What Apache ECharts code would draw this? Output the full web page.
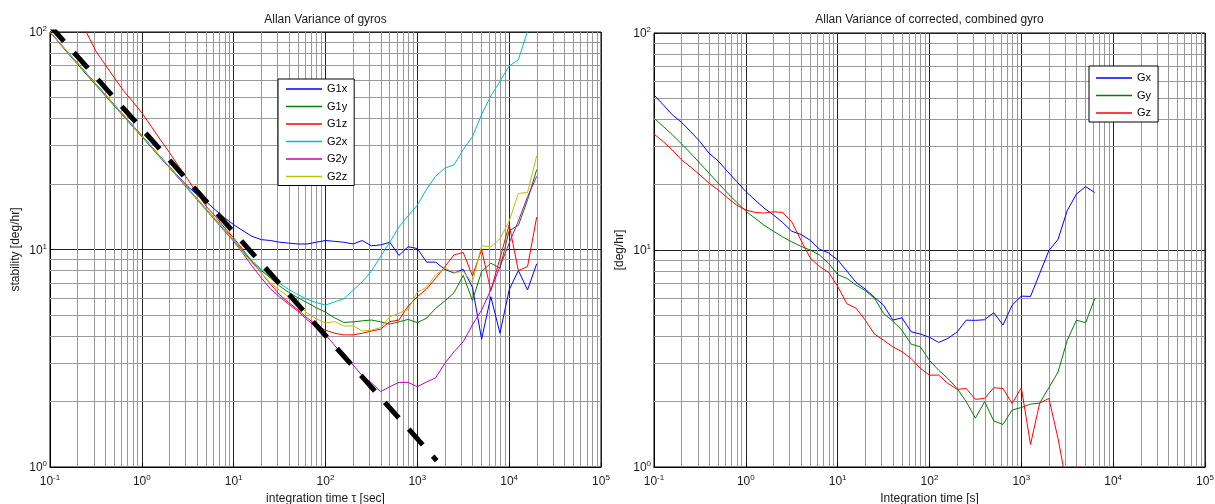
<!DOCTYPE html>
<html><head><meta charset="utf-8">
<script src="https://cdn.jsdelivr.net/npm/echarts@6/dist/echarts.min.js"></script>
<style>html,body{margin:0;padding:0;background:#fff}#c{width:1215px;height:504px}</style>
</head><body><div id="c"></div>
<script>
// ---------- data ----------
const tauL = [0.1, 0.126, 0.158, 0.2, 0.251, 0.316, 0.398, 0.501, 0.631, 0.794,
  1, 1.26, 1.58, 2, 2.51, 3.16, 3.98, 5.01, 6.31, 7.94,
  10, 12.6, 15.8, 20, 25.1, 31.6, 39.8, 50.1, 63.1, 79.4,
  100, 126, 158, 200, 251, 316, 398, 501, 631, 794,
  1000, 1259, 1585, 1995, 2512, 3162, 3981, 5012, 6310, 7943,
  10000, 12589, 15849, 19953];
const G1x = [100, 89.6, 80.3, 71.9, 64.4, 57.7, 51.7, 46.3, 41.5, 37.2,
  33.4, 29.9, 26.8, 24.0, 21.6, 19.5, 17.9, 16.6, 15.2, 14.0,
  13.0, 12.2, 11.5, 11.1, 11.0, 10.8, 10.7, 10.6, 10.6, 10.8,
  11.0, 10.9, 10.8, 10.6, 11.0, 10.4, 10.5, 10.8, 9.4, 10.3,
  10.1, 8.75, 8.75, 8.1, 7.8, 8.1, 6.7, 3.87, 6.07, 4.12,
  6.52, 8.0, 6.52, 8.6];
const G1y = [100, 89.0, 79.5, 71.0, 63.5, 57.0, 51.0, 45.7, 41.0, 36.8,
  33.0, 29.6, 26.5, 23.8, 21.3, 19.0, 17.0, 15.2, 13.6, 12.2,
  11.0, 9.8, 8.8, 8.0, 7.4, 6.8, 6.35, 6.0, 5.7, 5.4,
  5.15, 4.85, 4.62, 4.65, 4.7, 4.74, 4.65, 4.54, 4.65, 4.77,
  4.61, 4.83, 5.37, 5.8, 6.33, 7.6, 5.83, 7.92, 8.65, 8.21,
  12.2, 12.9, 16.9, 23.3];
const G1z = [196, 166, 138, 117, 99, 81.7, 70.8, 61.7, 53.7, 47.9,
  42.5, 36.9, 32.1, 27.9, 24.2, 21.0, 18.2, 15.8, 14.2, 12.6,
  11.3, 10.0, 8.8, 7.8, 6.95, 6.2, 5.7, 5.27, 4.85, 4.5,
  4.25, 4.12, 4.05, 4.05, 4.12, 4.22, 4.3, 4.66, 4.74, 5.5,
  6.07, 6.58, 7.38, 8.35, 9.45, 9.69, 7.56, 10.0, 6.47, 9.1,
  13.0, 8.0, 8.35, 14.1];
const G2x = [100, 89.6, 80.3, 71.9, 64.4, 57.7, 51.7, 46.3, 41.5, 37.2,
  33.4, 29.9, 26.8, 24.0, 21.5, 19.2, 17.2, 15.4, 13.8, 12.4,
  11.1, 9.9, 8.9, 8.1, 7.5, 7.0, 6.55, 6.2, 5.9, 5.7,
  5.55, 5.75, 5.93, 6.5, 7.1, 7.95, 9.3, 10.8, 12.7, 14.3,
  16.0, 18.9, 21.7, 23.7, 24.5, 28.8, 33.0, 41.8, 50.8, 59.3,
  69.8, 74.5, 101, 125];
const G2y = [100, 89.4, 80.0, 71.6, 64.1, 57.4, 51.4, 46.0, 41.2, 36.9,
  33.1, 29.7, 26.6, 23.8, 21.3, 19.1, 17.1, 15.3, 13.7, 12.2,
  10.9, 9.6, 8.4, 7.4, 6.6, 6.05, 5.6, 5.2, 4.75, 4.4,
  4.05, 3.62, 3.21, 2.94, 2.63, 2.44, 2.22, 2.34, 2.45, 2.45,
  2.34, 2.46, 2.57, 3.0, 3.39, 3.77, 4.5, 5.27, 6.52, 8.35,
  10.7, 13.5, 17.5, 21.7];
const G2z = [100, 89.5, 80.1, 71.7, 64.2, 57.5, 51.5, 46.1, 41.3, 37.0,
  33.2, 29.8, 26.7, 23.9, 21.4, 19.1, 17.1, 15.3, 13.7, 12.3,
  11.0, 9.7, 8.7, 7.8, 7.0, 6.5, 6.05, 5.6, 5.1, 4.8,
  4.6, 4.66, 4.45, 4.45, 4.22, 4.26, 4.37, 4.91, 5.09, 5.3,
  6.37, 6.71, 7.64, 8.21, 7.85, 7.92, 7.05, 10.4, 10.3, 11.2,
  13.5, 18.1, 18.3, 27.0];
// reference slope line (dashed)
const refX = [0.1, 1625];
const refY = [107, 1.07];

const tauR = [0.1, 0.126, 0.158, 0.2, 0.251, 0.316, 0.398, 0.501, 0.631, 0.794,
  1, 1.26, 1.58, 2, 2.51, 3.16, 3.98, 5.01, 6.31, 7.94,
  10, 12.6, 15.8, 20, 25.1, 31.6, 39.8, 50.1, 63.1, 79.4,
  100, 126, 158, 200, 251, 316, 398, 501, 631, 794,
  1000, 1259, 1585, 1995, 2512, 3162, 3981, 5012, 6310];
const Gx = [51.8, 46.7, 42.0, 38.7, 35.1, 31.6, 27.9, 25.7, 23.0, 20.7,
  18.6, 17.0, 15.6, 14.5, 13.4, 12.2, 11.8, 11.1, 10.1, 9.7,
  9.0, 8.0, 7.1, 6.6, 6.05, 5.57, 4.75, 4.87, 4.2, 4.1,
  3.96, 3.75, 3.91, 4.19, 4.75, 4.74, 4.77, 5.14, 4.51, 5.57,
  6.13, 6.11, 7.8, 9.93, 11.2, 15.2, 18.1, 19.6, 18.4];
const Gy = [40.5, 37.1, 34.0, 30.8, 27.9, 25.1, 22.6, 20.3, 18.3, 16.6,
  15.1, 14.0, 13.0, 12.2, 11.5, 10.9, 10.4, 10.0, 9.5, 8.7,
  7.7, 7.4, 6.9, 6.5, 6.0, 5.1, 4.7, 4.27, 3.68, 3.58,
  3.1, 2.79, 2.56, 2.3, 2.0, 1.68, 2.0, 1.63, 1.57, 1.83,
  1.88, 1.95, 1.97, 2.32, 2.74, 3.84, 4.75, 4.62, 5.98];
const Gz = [34.2, 31.6, 28.9, 26.0, 24.1, 22.2, 20.3, 18.9, 17.4, 16.1,
  15.3, 14.9, 14.8, 15.0, 14.9, 13.5, 11.1, 9.2, 8.4, 7.9,
  6.8, 5.65, 5.4, 4.75, 4.1, 3.84, 3.58, 3.4, 3.16, 2.85,
  2.65, 2.65, 2.43, 2.28, 2.3, 2.05, 2.07, 2.32, 2.3, 1.96,
  2.32, 1.27, 1.97, 2.07, 1.35, 0.8, 1.01, 0.7, 0.6];

const namesL = ['G1x', 'G1y', 'G1z', 'G2x', 'G2y', 'G2z'];
const namesR = ['Gx', 'Gy', 'Gz'];
const titles = ['Allan Variance of gyros', 'Allan Variance of corrected, combined gyro'];
const xNames = ['integration time \u03c4 [sec]', 'Integration time [s]'];
const yNames = ['stability [deg/hr]', '[deg/hr]'];

// ---------- styling ----------
const FONT = '"Liberation Sans", Arial, Helvetica, sans-serif';
const TXT = '#1a1a1a';
const colL = ['#0000ff', '#008000', '#ff0000', '#00bfbf', '#bf00bf', '#bfbf00'];
const colR = ['#0000ff', '#008000', '#ff0000'];

function pairs(xs, ys) { return xs.map((x, i) => [x, ys[i]]); }
function minorVals(lo, hi) {
  const out = [];
  for (let e = lo; e < hi; e++) for (let k = 2; k <= 9; k++) out.push(+(k * Math.pow(10, e)).toPrecision(6));
  return out;
}
const powLabel = v => {
  const e = Math.round(Math.log10(v));
  return '{b|10}{s|' + e + '}';
};
const rich = {
  b: { fontSize: 12, fontFamily: FONT, color: TXT, verticalAlign: 'bottom', lineHeight: 14 },
  s: { fontSize: 8, fontFamily: FONT, color: TXT, verticalAlign: 'top', lineHeight: 14 }
};

const grids = [
  { left: 50, top: 32, width: 551, height: 435 },
  { left: 654, top: 33, width: 551, height: 434 }
];

function xAxis(i) {
  return {
    type: 'log', logBase: 10, gridIndex: i, min: 0.1, max: 100000, splitNumber: 6,
    name: xNames[i], nameLocation: 'middle', nameGap: 26,
    nameTextStyle: { fontSize: 12, fontFamily: FONT, color: TXT },
    axisLine: { show: true, onZero: false, lineStyle: { color: '#000', width: 1 } },
    axisTick: { show: true, inside: true, length: 4, lineStyle: { color: '#000' } },
    axisLabel: { margin: 7, formatter: powLabel, rich: rich },
    splitLine: { show: true, lineStyle: { color: '#222', width: 1 } }
  };
}
function yAxis(i) {
  return {
    type: 'log', logBase: 10, gridIndex: i, min: 1, max: 100, splitNumber: 2,
    name: yNames[i], nameLocation: 'middle', nameGap: 28,
    nameTextStyle: { fontSize: 12, fontFamily: FONT, color: TXT },
    axisLine: { show: true, onZero: false, lineStyle: { color: '#000', width: 1 } },
    axisTick: { show: true, inside: true, length: 4, lineStyle: { color: '#000' } },
    axisLabel: { margin: 3, formatter: powLabel, rich: rich },
    splitLine: { show: true, lineStyle: { color: '#222', width: 1 } }
  };
}
function minorGrid(i) {
  const data = minorVals(-1, 5).map(v => ({ xAxis: v }))
    .concat(minorVals(0, 2).map(v => ({ yAxis: v })));
  return {
    type: 'line', xAxisIndex: i, yAxisIndex: i, data: [], z: 1, silent: true,
    markLine: {
      silent: true, symbol: ['none', 'none'], animation: false, z: 1,
      label: { show: false },
      lineStyle: { color: '#999', width: 1, type: 'solid' },
      emphasis: { disabled: true },
      data: data
    }
  };
}
function lineSeries(name, xs, ys, color, gi) {
  return {
    type: 'line', name: name, xAxisIndex: gi, yAxisIndex: gi,
    data: pairs(xs, ys), showSymbol: false, symbol: 'none', clip: true,
    lineStyle: { color: color, width: 1 }, itemStyle: { color: color },
    emphasis: { disabled: true }, animation: false, z: 3
  };
}

const series = [minorGrid(0), minorGrid(1)];
const ysL = [G1x, G1y, G1z, G2x, G2y, G2z];
namesL.forEach((n, k) => series.push(lineSeries(n, tauL, ysL[k], colL[k], 0)));
series.push({
  type: 'line', name: 'ref', xAxisIndex: 0, yAxisIndex: 0, data: pairs(refX, refY),
  showSymbol: false, symbol: 'none', clip: true, z: 4, animation: false,
  lineStyle: { color: '#000', width: 5, type: [21, 15] }, emphasis: { disabled: true }
});
const ysR = [Gx, Gy, Gz];
namesR.forEach((n, k) => series.push(lineSeries(n, tauR, ysR[k], colR[k], 1)));

const legendBase = {
  orient: 'vertical', icon: 'rect', itemWidth: 36, itemHeight: 1.5, itemGap: 3.5,
  backgroundColor: '#ffffff', borderColor: '#000', borderWidth: 1, z: 20, zlevel: 1,
  textStyle: { fontSize: 11, fontFamily: FONT, color: '#000', lineHeight: 14 },
  selectedMode: false
};

const option = {
  backgroundColor: '#fff',
  animation: false,
  title: [
    { text: titles[0], left: 325.5, top: 14, textAlign: 'center', padding: 0,
      textStyle: { fontSize: 12, fontWeight: 'normal', fontFamily: FONT, color: TXT } },
    { text: titles[1], left: 929.5, top: 14, textAlign: 'center', padding: 0,
      textStyle: { fontSize: 12, fontWeight: 'normal', fontFamily: FONT, color: TXT } }
  ],
  legend: [
    Object.assign({}, legendBase, { data: namesL, left: 278, top: 79, padding: [3, 7, 2, 8] }),
    Object.assign({}, legendBase, { data: namesR, left: 1089, top: 66, padding: [5, 7, 2, 7] })
  ],
  grid: grids.map(g => Object.assign({ show: true, borderColor: '#000', borderWidth: 1, backgroundColor: 'transparent', containLabel: false, outerBoundsMode: 'none' }, g)),
  xAxis: [xAxis(0), xAxis(1)],
  yAxis: [yAxis(0), yAxis(1)],
  series: series
};

const chart = echarts.init(document.getElementById('c'), null, { renderer: 'canvas' });
chart.setOption(option);
</script></body></html>
